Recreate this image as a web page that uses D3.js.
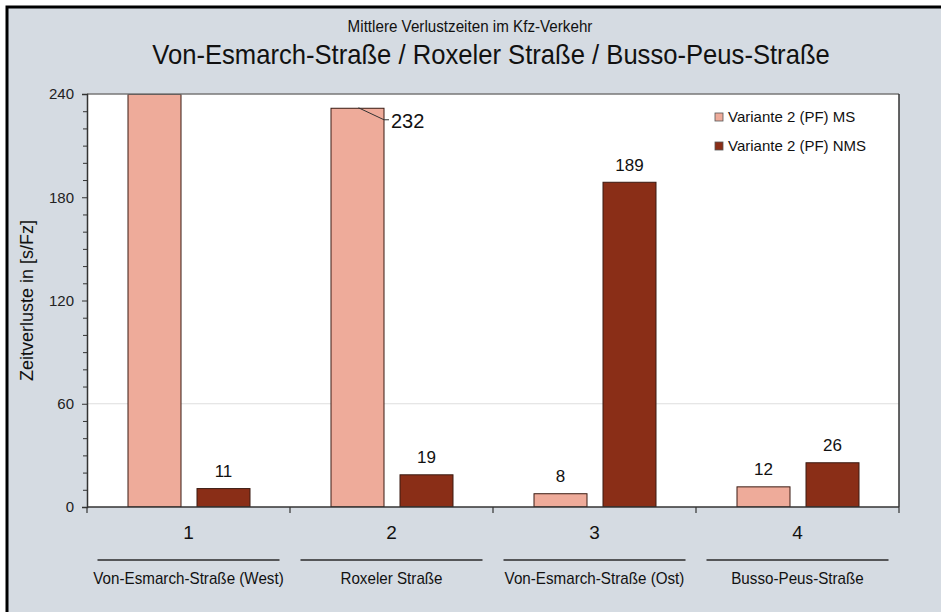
<!DOCTYPE html>
<html>
<head>
<meta charset="utf-8">
<script src="https://cdn.jsdelivr.net/npm/d3@7"></script>
<style>
  html, body { margin: 0; padding: 0; background: #ffffff; }
  svg { display: block; }
</style>
</head>
<body>
<svg id="chart" width="941" height="612"></svg>
<script>
// Kategorien (Knotenpunkte) und Straßennamen
const categories = ["1", "2", "3", "4"];
const streetNames = ["Von-Esmarch-Straße (West)", "Roxeler Straße", "Von-Esmarch-Straße (Ost)", "Busso-Peus-Straße"];
const seriesNames = ["Variante 2 (PF) MS", "Variante 2 (PF) NMS"];
// Mittlere Verlustzeiten in s/Fz
const msValues = [260, 232, 8, 12];
const nmsValues = [11, 19, 189, 26];
const yTicksMajor = [0, 60, 120, 180, 240];

const colors = ["#eeab9a", "#8a2e17"];
const regular = "'Liberation Sans', Arial, sans-serif";

const svg = d3.select("#chart");

// Schmal laufender Text (horizontal gestauchte Schrift)
function narrowText(g, x, y, size, sx, txt) {
  return g.append("text")
    .attr("transform", `translate(${x},${y}) scale(${sx},1)`)
    .attr("text-anchor", "middle")
    .attr("font-family", regular).attr("font-size", size).attr("fill", "#111")
    .text(txt);
}

// Hintergrund und Rahmen
svg.append("rect").attr("x", 0).attr("y", 0).attr("width", 941).attr("height", 612).attr("fill", "#ffffff");
svg.append("rect").attr("x", 7).attr("y", 7).attr("width", 960).attr("height", 640)
  .attr("fill", "#d5dbe2").attr("stroke", "#000").attr("stroke-width", 3);

const plot = { left: 87, right: 899, top: 94, bottom: 507 };

// Titel
narrowText(svg, 470, 32, 16, 0.95, "Mittlere Verlustzeiten im Kfz-Verkehr");
narrowText(svg, 491, 64, 28, 0.915, "Von-Esmarch-Straße / Roxeler Straße / Busso-Peus-Straße");

// Skalen
const x = d3.scaleBand().domain(categories).range([plot.left, plot.right]).padding(0);
const xInner = d3.scaleBand().domain(seriesNames).range([41, 163]).paddingInner(16 / 69).paddingOuter(0);
const y = d3.scaleLinear().domain([0, 240]).range([plot.bottom, plot.top]);

// Zeichenfläche
svg.append("rect").attr("x", plot.left).attr("y", plot.top)
  .attr("width", plot.right - plot.left).attr("height", plot.bottom - plot.top)
  .attr("fill", "#ffffff");

// Hilfslinie bei 60
svg.append("line").attr("x1", plot.left).attr("x2", plot.right)
  .attr("y1", y(60)).attr("y2", y(60))
  .attr("stroke", "#dedede").attr("stroke-width", 1);

svg.append("defs").append("clipPath").attr("id", "plotClip")
  .append("rect").attr("x", plot.left).attr("y", plot.top)
  .attr("width", plot.right - plot.left).attr("height", plot.bottom - plot.top);

const rows = categories.map((c, i) => ({ cat: c, values: [msValues[i], nmsValues[i]] }));

const barsG = svg.append("g").attr("clip-path", "url(#plotClip)");
rows.forEach(r => {
  r.values.forEach((v, j) => {
    barsG.append("rect")
      .attr("x", x(r.cat) + xInner(seriesNames[j]))
      .attr("y", y(Math.min(v, 240)) + 0.5)
      .attr("width", xInner.bandwidth())
      .attr("height", y(0) - y(Math.min(v, 240)) - 0.5)
      .attr("fill", colors[j])
      .attr("stroke", "#3a1a12").attr("stroke-width", 1);
  });
});

// Wertebeschriftungen
rows.forEach(r => {
  r.values.forEach((v, j) => {
    if (v > 240) return;
    const bx = x(r.cat) + xInner(seriesNames[j]);
    const cx = bx + xInner.bandwidth() / 2;
    if (v > 220) {
      // Beschriftung neben dem Balken mit Führungslinie
      const ty = y(v);
      svg.append("polyline")
        .attr("points", [[cx + 1, ty], [bx + xInner.bandwidth(), ty + 12], [bx + xInner.bandwidth() + 5, ty + 12]].map(p => p.join(",")).join(" "))
        .attr("fill", "none").attr("stroke", "#333").attr("stroke-width", 1);
      svg.append("text").attr("x", bx + xInner.bandwidth() + 7).attr("y", ty + 20)
        .attr("font-family", regular).attr("font-size", 20).attr("fill", "#111")
        .text(v);
    } else {
      svg.append("text").attr("x", cx).attr("y", y(v) - 11).attr("text-anchor", "middle")
        .attr("font-family", regular).attr("font-size", 17).attr("fill", "#111")
        .text(v);
    }
  });
});

// Rahmenlinien oben und rechts
svg.append("line").attr("x1", plot.left).attr("x2", plot.right).attr("y1", plot.top).attr("y2", plot.top)
  .attr("stroke", "#777").attr("stroke-width", 1.5);
svg.append("line").attr("x1", plot.right).attr("x2", plot.right).attr("y1", plot.top).attr("y2", plot.bottom)
  .attr("stroke", "#333").attr("stroke-width", 1.5);

// Y-Achse
const yAxis = d3.axisLeft(y).tickValues(yTicksMajor).tickSize(5).tickPadding(8);
const yg = svg.append("g").attr("transform", `translate(${plot.left},0)`).call(yAxis);
yg.select(".domain").attr("stroke", "#333").attr("stroke-width", 1.5);
yg.selectAll(".tick line").attr("stroke", "#333");
yg.selectAll(".tick text").attr("font-family", regular).attr("font-size", 15).attr("fill", "#222");
const yMinor = d3.axisLeft(y).tickValues(d3.range(0, 241, 10).filter(v => v % 60 !== 0)).tickSize(4).tickFormat("");
const ym = svg.append("g").attr("transform", `translate(${plot.left},0)`).call(yMinor);
ym.select(".domain").remove();
ym.selectAll(".tick line").attr("stroke", "#333");

svg.append("text")
  .attr("transform", `translate(33,${(plot.top + plot.bottom) / 2}) rotate(-90)`)
  .attr("text-anchor", "middle").attr("font-family", regular).attr("font-size", 18).attr("fill", "#111")
  .text("Zeitverluste in [s/Fz]");

// X-Achse mit Trennstrichen zwischen den Gruppen
svg.append("line").attr("x1", plot.left).attr("x2", plot.right).attr("y1", plot.bottom).attr("y2", plot.bottom)
  .attr("stroke", "#333").attr("stroke-width", 1.5);
const bounds = categories.map(c => x(c)).concat([plot.right]);
bounds.forEach(b => {
  svg.append("line").attr("x1", b).attr("x2", b).attr("y1", plot.bottom).attr("y2", plot.bottom + 6)
    .attr("stroke", "#333").attr("stroke-width", 1.2);
});
categories.forEach((c, i) => {
  const cx = x(c) + x.bandwidth() / 2;
  svg.append("text").attr("x", cx).attr("y", 539).attr("text-anchor", "middle")
    .attr("font-family", regular).attr("font-size", 19).attr("fill", "#111").text(c);
  svg.append("line").attr("x1", cx - 91).attr("x2", cx + 91).attr("y1", 560).attr("y2", 560)
    .attr("stroke", "#2a2a2a").attr("stroke-width", 1.3);
  narrowText(svg, cx, 584, 16, 0.95, streetNames[i]);
});

// Legende
seriesNames.forEach((s, i) => {
  const ly = 117 + i * 29;
  svg.append("rect").attr("x", 715).attr("y", ly - 4).attr("width", 8).attr("height", 8)
    .attr("fill", colors[i]).attr("stroke", "#555").attr("stroke-width", 0.8);
  svg.append("text").attr("x", 728).attr("y", ly + 5)
    .attr("font-family", regular).attr("font-size", 15).attr("fill", "#111").text(s);
});
</script>
</body>
</html>
